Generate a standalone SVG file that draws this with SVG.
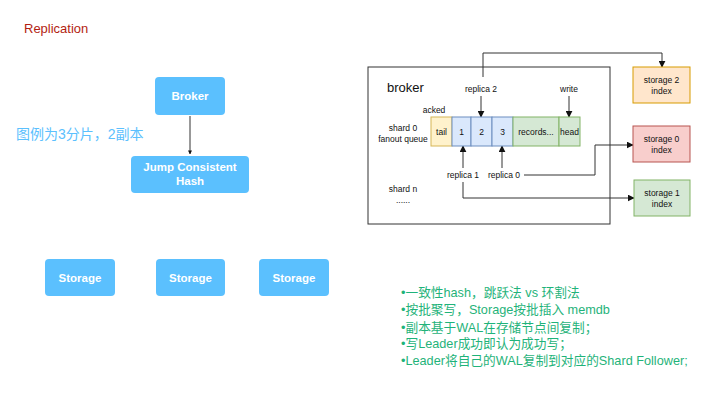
<svg xmlns="http://www.w3.org/2000/svg" width="720" height="405" viewBox="0 0 720 405">
<style>
.t{font-family:"Liberation Sans",Arial,sans-serif}
.blue{fill:#5bc0fe}
.wt{font-family:"Liberation Sans",Arial,sans-serif;font-size:11.5px;font-weight:bold;fill:#ffffff;text-anchor:middle}
.s{font-family:"Liberation Sans",Arial,sans-serif;font-size:8.5px;fill:#111;text-anchor:middle}
.ln{fill:none;stroke:#333;stroke-width:1}
.g{font-family:"Liberation Sans","Noto Sans CJK SC",sans-serif;font-size:12.7px;fill:#1fb37a}
</style>
<defs>
<marker id="ah" viewBox="0 0 10 10" refX="9" refY="5" markerWidth="7" markerHeight="7" markerUnits="userSpaceOnUse" orient="auto"><path d="M0,0 L10,5 L0,10 Z" fill="#111"/></marker>
<marker id="ahs" viewBox="0 0 10 10" refX="9" refY="5" markerWidth="4" markerHeight="4" markerUnits="userSpaceOnUse" orient="auto"><path d="M0,0 L10,5 L0,10 Z" fill="#111"/></marker>
</defs>
<rect width="720" height="405" fill="#ffffff"/>
<text class="t" x="24" y="33" font-size="13" fill="#b31e12">Replication</text>
<text x="16" y="139" font-family="'Liberation Sans','Noto Sans CJK SC',sans-serif" font-size="14" fill="#5bc0fe">图例为3分片，2副本</text>

<g id="connectors">
<line class="ln" x1="190" y1="116" x2="190" y2="154" marker-end="url(#ahs)"/>
<line class="ln" x1="481" y1="96" x2="481" y2="117" marker-end="url(#ah)"/>
<line class="ln" x1="569" y1="96" x2="569" y2="117" marker-end="url(#ah)"/>
<line class="ln" x1="463" y1="168" x2="463" y2="146" marker-end="url(#ah)"/>
<line class="ln" x1="502" y1="168" x2="502" y2="146" marker-end="url(#ah)"/>
<polyline class="ln" points="483,77 483,53 662,53 662,67" marker-end="url(#ah)"/>
<polyline class="ln" points="524,175 595,175 595,145 633,145" marker-end="url(#ah)"/>
<polyline class="ln" points="463,182 463,198 634,198" marker-end="url(#ah)"/>
</g>

<g id="broker-node"><rect class="blue" x="155" y="77" width="70" height="38" rx="4"/><text class="wt" x="190" y="100">Broker</text></g>
<g id="jch-node"><rect class="blue" x="131" y="156" width="118" height="37" rx="4"/><text class="wt" x="190" y="171">Jump Consistent</text><text class="wt" x="190" y="185">Hash</text></g>
<g id="storage-a"><rect class="blue" x="45" y="259" width="70" height="37" rx="4"/><text class="wt" x="80" y="282">Storage</text></g>
<g id="storage-b"><rect class="blue" x="156" y="259" width="69" height="37" rx="4"/><text class="wt" x="190.5" y="282">Storage</text></g>
<g id="storage-c"><rect class="blue" x="259" y="259" width="70" height="37" rx="4"/><text class="wt" x="294" y="282">Storage</text></g>

<g id="broker-box">
<rect x="368" y="67" width="242" height="157" fill="none" stroke="#333" stroke-width="1"/>
<text class="t" x="387" y="92" font-size="13" fill="#111">broker</text>
<text class="s" x="481" y="92">replica 2</text>
<text class="s" x="569" y="92">write</text>
<text class="s" x="434" y="113">acked</text>
<text class="s" x="403" y="131">shard 0</text>
<text class="s" x="403" y="142">fanout queue</text>
<text class="s" x="463" y="178">replica 1</text>
<text class="s" x="504" y="178">replica 0</text>
<text class="s" x="403" y="192">shard n</text>
<text class="s" x="403" y="203">......</text>
</g>
<g id="queue">
<rect x="431" y="117" width="21" height="29" fill="#fff2cc" stroke="#d6b656"/><text class="s" x="441.5" y="135">tail</text>
<rect x="452" y="117" width="19" height="29" fill="#dae8fc" stroke="#6c8ebf"/><text class="s" x="461.5" y="135">1</text>
<rect x="471" y="117" width="21" height="29" fill="#dae8fc" stroke="#6c8ebf"/><text class="s" x="481.5" y="135">2</text>
<rect x="492" y="117" width="21" height="29" fill="#dae8fc" stroke="#6c8ebf"/><text class="s" x="502.5" y="135">3</text>
<rect x="513" y="117" width="46" height="29" fill="#d5e8d4" stroke="#82b366"/><text class="s" x="536" y="135">records...</text>
<rect x="559" y="117" width="21" height="29" fill="#d5e8d4" stroke="#82b366"/><text class="s" x="569.5" y="135">head</text>
</g>
<g id="storage2"><rect x="633" y="67" width="57" height="36" fill="#ffe6cc" stroke="#d79b00"/><text class="s" x="661.5" y="83">storage 2</text><text class="s" x="661.5" y="94">index</text></g>
<g id="storage0"><rect x="633" y="126" width="57" height="36" fill="#f8cecc" stroke="#b85450"/><text class="s" x="661.5" y="142">storage 0</text><text class="s" x="661.5" y="153">index</text></g>
<g id="storage1"><rect x="634" y="180" width="56" height="36" fill="#d5e8d4" stroke="#82b366"/><text class="s" x="662" y="196">storage 1</text><text class="s" x="662" y="207">index</text></g>

<g id="notes">
<text class="g" x="401" y="297">•一致性hash，跳跃法 vs 环割法</text>
<text class="g" x="401" y="314">•按批聚写，Storage按批插入 memdb</text>
<text class="g" x="401" y="332">•副本基于WAL在存储节点间复制；</text>
<text class="g" x="401" y="348">•写Leader成功即认为成功写；</text>
<text class="g" x="401" y="365">•Leader将自己的WAL复制到对应的Shard Follower;</text>
</g>
</svg>
